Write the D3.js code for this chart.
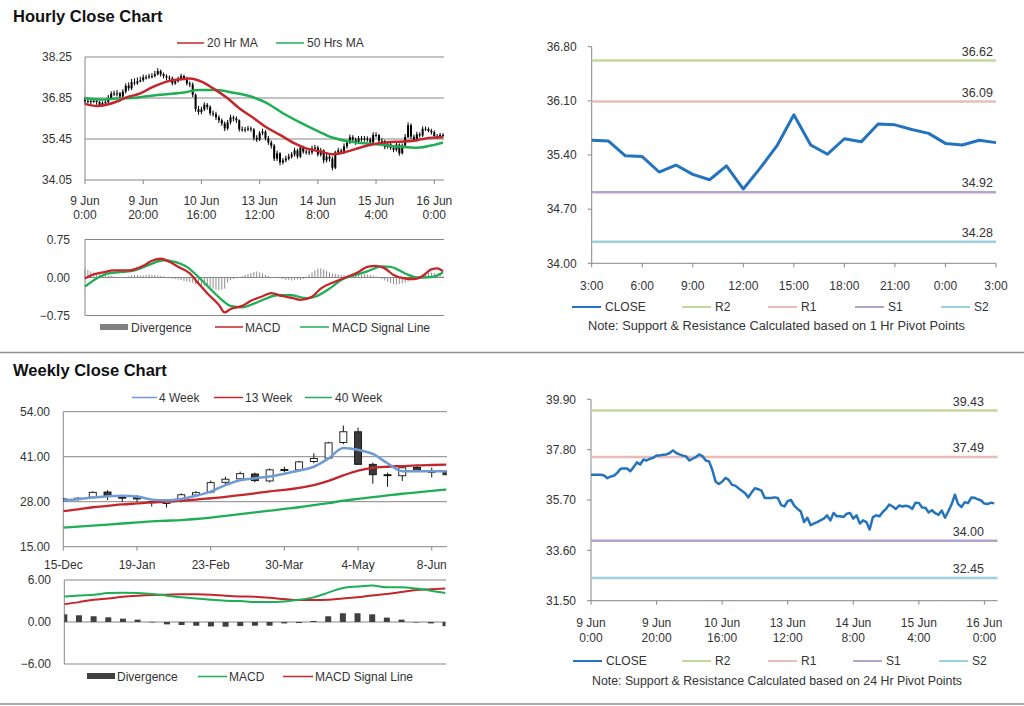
<!DOCTYPE html>
<html><head><meta charset="utf-8">
<script src="https://cdn.jsdelivr.net/npm/d3@7"></script>
<style>body{margin:0;background:#fff}svg{display:block}</style>
</head><body><svg id="c" width="1024" height="706"></svg>
<script>
// ---------------- DATA ----------------
const hourlyTickIdx = [0,20,40,60,80,100,120];
const hourlyTickDate = ["9 Jun","9 Jun","10 Jun","13 Jun","14 Jun","15 Jun","16 Jun"];
const hourlyTickTime = ["0:00","20:00","16:00","12:00","8:00","4:00","0:00"];
const hourlyYTicks = [34.05,35.45,36.85,38.25];

const hourlyClose = [36.75,36.75,36.75,36.75,36.72,36.61,36.68,36.71,36.83,37.00,
37.01,37.01,36.90,37.07,37.27,37.18,37.39,37.35,37.42,37.46,
37.56,37.56,37.59,37.60,37.66,37.77,37.66,37.60,37.55,37.52,
37.35,37.42,37.49,37.60,37.53,37.35,37.31,36.96,36.47,36.37,
36.46,36.62,36.54,36.33,36.30,36.19,36.09,35.98,35.81,36.02,
36.19,36.15,36.09,35.78,35.78,35.78,35.81,35.78,35.49,35.43,
35.65,35.70,35.47,35.33,35.22,34.78,34.96,34.65,34.72,34.78,
34.85,34.92,35.06,34.85,35.16,35.02,35.02,34.99,35.13,35.16,
34.92,35.06,34.72,34.85,34.78,34.47,34.99,35.06,35.02,35.20,
35.33,35.51,35.43,35.33,35.47,35.43,35.46,35.43,35.33,35.59,
35.58,35.39,35.38,35.18,35.27,35.15,35.08,35.26,34.96,35.23,
35.52,35.92,35.53,35.41,35.61,35.57,35.80,35.79,35.73,35.68,
35.55,35.53,35.59,35.56];
const hourlyOpen = [36.78,36.75,36.75,36.75,36.75,36.72,36.61,36.68,36.71,36.83,
37.00,37.01,37.01,36.90,37.07,37.27,37.18,37.39,37.35,37.42,
37.46,37.56,37.56,37.59,37.60,37.66,37.77,37.66,37.60,37.55,
37.52,37.35,37.42,37.49,37.60,37.53,37.35,37.31,36.96,36.47,
36.37,36.46,36.62,36.54,36.33,36.30,36.19,36.09,35.98,35.81,
36.02,36.19,36.15,36.09,35.78,35.78,35.78,35.81,35.78,35.49,
35.43,35.65,35.70,35.47,35.33,35.22,34.78,34.96,34.65,34.72,
34.78,34.85,34.92,35.06,34.85,35.16,35.02,35.02,34.99,35.13,
35.16,34.92,35.06,34.72,34.85,34.78,34.47,34.99,35.06,35.02,
35.20,35.33,35.51,35.43,35.33,35.47,35.43,35.46,35.43,35.33,
35.59,35.58,35.39,35.38,35.18,35.27,35.15,35.08,35.26,34.96,
35.23,35.52,35.92,35.53,35.41,35.61,35.57,35.80,35.79,35.73,
35.68,35.55,35.53,35.59];
const hourlyHigh = [36.88,36.84,36.82,36.85,36.80,36.76,36.74,36.80,36.95,37.08,
37.10,37.12,37.06,37.15,37.35,37.38,37.50,37.52,37.55,37.58,
37.65,37.64,37.68,37.70,37.78,37.87,37.82,37.72,37.66,37.62,
37.58,37.50,37.58,37.68,37.65,37.58,37.42,37.38,37.00,36.58,
36.55,36.70,36.68,36.60,36.42,36.38,36.26,36.15,36.05,36.10,
36.28,36.25,36.22,36.12,35.88,35.86,35.90,35.88,35.82,35.58,
35.72,35.80,35.75,35.55,35.40,35.28,35.05,35.00,34.80,34.88,
34.95,35.00,35.15,35.12,35.25,35.22,35.10,35.10,35.22,35.25,
35.22,35.15,35.10,34.95,34.92,34.85,35.05,35.15,35.12,35.30,
35.42,35.60,35.58,35.50,35.55,35.55,35.55,35.54,35.50,35.68,
35.68,35.62,35.48,35.42,35.35,35.32,35.22,35.35,35.30,35.30,
35.62,36.02,35.98,35.60,35.70,35.68,35.88,35.88,35.85,35.80,
35.74,35.62,35.66,35.65];
const hourlyLow = [36.66,36.66,36.64,36.68,36.62,36.55,36.55,36.62,36.66,36.78,
36.92,36.90,36.82,36.85,37.00,37.10,37.12,37.28,37.30,37.38,
37.40,37.48,37.50,37.52,37.55,37.62,37.58,37.52,37.45,37.44,
37.28,37.30,37.38,37.44,37.45,37.28,37.22,36.88,36.38,36.28,
36.30,36.40,36.45,36.25,36.22,36.10,36.00,35.90,35.72,35.75,
35.95,36.05,36.00,35.70,35.70,35.68,35.72,35.70,35.40,35.35,
35.38,35.58,35.40,35.25,35.12,34.70,34.70,34.55,34.58,34.65,
34.72,34.78,34.85,34.78,34.80,34.95,34.92,34.90,34.92,35.05,
34.85,34.85,34.62,34.65,34.68,34.38,34.42,34.92,34.95,34.95,
35.12,35.28,35.35,35.25,35.28,35.36,35.36,35.35,35.25,35.28,
35.50,35.30,35.30,35.10,35.12,35.08,35.00,35.02,34.88,34.92,
35.18,35.48,35.45,35.35,35.36,35.50,35.52,35.72,35.68,35.60,
35.48,35.46,35.48,35.50];
// moving averages as [hour index, value]
const ma20Hr = [[0,36.65],[4,36.58],[7,36.61],[11,36.73],[14,36.86],[19,37.01],[23,37.21],[28,37.41],[33,37.50],[36,37.52],[40,37.41],[44,37.18],[49,36.84],[53,36.50],[58,36.16],[62,35.87],[67,35.59],[72,35.30],[76,35.13],[81,35.02],[85,34.93],[90,35.02],[95,35.17],[99,35.27],[104,35.34],[108,35.36],[113,35.39],[117,35.47],[123,35.51]];
const ma50Hr = [[0,36.84],[5,36.80],[11,36.83],[17,36.86],[22,36.92],[28,36.98],[34,37.04],[39,37.12],[45,37.12],[51,37.03],[57,36.90],[62,36.70],[68,36.33],[74,36.01],[80,35.72],[85,35.50],[91,35.36],[97,35.30],[102,35.25],[108,35.19],[114,35.15],[120,35.25],[123,35.33]];
// hourly MACD panel
const hourlyMacdTicks = [-0.75,0.00,0.75];
const hourlyMacd = [[0,-0.02],[3,0.06],[6,0.10],[10,0.14],[15,0.14],[20,0.23],[23,0.33],[26,0.37],[29,0.31],[32,0.21],[36,0.08],[39,-0.12],[42,-0.31],[46,-0.54],[48,-0.69],[50,-0.62],[54,-0.56],[57,-0.46],[61,-0.37],[64,-0.31],[68,-0.37],[71,-0.40],[74,-0.44],[78,-0.38],[81,-0.22],[86,-0.08],[90,0.01],[94,0.11],[97,0.21],[100,0.23],[103,0.18],[106,0.05],[110,-0.02],[113,-0.03],[116,0.03],[119,0.16],[121,0.18],[123,0.12]];
const hourlySignal = [[0,-0.18],[4,-0.02],[8,0.08],[13,0.11],[17,0.14],[22,0.25],[27,0.34],[30,0.32],[35,0.21],[39,0.01],[44,-0.28],[47,-0.44],[50,-0.56],[54,-0.59],[57,-0.54],[62,-0.42],[66,-0.35],[71,-0.35],[76,-0.41],[79,-0.38],[84,-0.22],[88,-0.05],[93,0.05],[97,0.12],[102,0.22],[105,0.21],[110,0.08],[114,0.00],[119,0.01],[123,0.10]];
const hourlyDivergence = [0.16,0.15,0.12,0.10,0.08,0.06,0.05,0.04,0.03,0.03,
0.02,0.01,0.00,-0.01,0.00,0.02,0.04,0.05,0.05,0.04,
0.04,0.05,0.06,0.05,0.05,0.04,0.03,0.02,0.01,0.00,
-0.02,-0.03,-0.04,-0.05,-0.07,-0.08,-0.09,-0.11,-0.13,-0.14,
-0.16,-0.17,-0.18,-0.20,-0.22,-0.24,-0.25,-0.24,-0.22,-0.10,
-0.05,-0.03,-0.01,0.01,0.03,0.05,0.07,0.09,0.11,0.12,
0.10,0.08,0.05,0.03,0.01,0.00,-0.01,-0.02,-0.03,-0.05,
-0.05,-0.06,-0.05,-0.04,-0.05,-0.03,0.02,0.06,0.10,0.14,
0.17,0.18,0.16,0.13,0.10,0.08,0.07,0.06,0.05,0.05,
0.04,0.04,0.03,0.04,0.05,0.06,0.07,0.06,0.05,0.04,
0.02,0.00,-0.03,-0.06,-0.09,-0.11,-0.13,-0.14,-0.13,-0.12,
-0.10,-0.08,-0.06,-0.03,0.00,0.03,0.06,0.08,0.09,0.10,
0.09,0.07,0.05,0.03];

// last 25 hours (top-right)
const lastDayLabels = ["3:00","6:00","9:00","12:00","15:00","18:00","21:00","0:00","3:00"];
const lastDayYTicks = [34.00,34.70,35.40,36.10,36.80];
const lastDayClose = [35.59,35.58,35.39,35.38,35.18,35.27,35.15,35.08,35.26,34.96,35.23,35.52,35.92,35.53,35.41,35.61,35.57,35.80,35.79,35.73,35.68,35.55,35.53,35.59,35.56];
const pivotNames = ["R2","R1","S1","S2"];
const pivots1Hr = [36.62,36.09,34.92,34.28];
const pivots24Hr = [39.43,37.49,34.00,32.45];
const pivotYTicks24 = [31.50,33.60,35.70,37.80,39.90];

// weekly
const weekLabels = ["15-Dec","19-Jan","23-Feb","30-Mar","4-May","8-Jun"];
const weekTickIdx = [0,5,10,15,20,25];
const weekYTicks = [15,28,41,54];
const weekOpen  = [28.8,28.6,29.3,30.8,29.3,29.4,28.0,27.5,28.3,29.9,30.8,33.6,34.6,36.0,34.0,37.3,37.2,39.6,40.6,45.1,48.2,38.8,35.8,35.5,37.9,36.8,36.7];
const weekClose = [28.3,29.0,30.7,29.8,29.2,28.8,27.8,28.2,30.0,30.6,33.5,34.5,36.1,34.1,37.2,37.0,39.5,40.5,45.0,48.2,38.8,35.8,35.6,37.8,37.0,36.7,35.8];
const weekHigh  = [29.1,29.3,31.0,31.3,29.6,29.9,28.3,28.4,30.4,31.1,34.1,35.2,36.7,36.4,37.6,38.1,39.8,42.0,45.3,50.0,49.4,39.3,36.4,38.3,38.3,37.8,37.0];
const weekLow   = [28.0,28.4,29.0,28.5,28.0,28.0,26.6,26.3,27.8,29.6,30.4,32.6,34.0,33.6,33.6,36.5,36.9,39.1,40.2,44.6,38.6,33.2,32.3,34.0,36.7,35.0,35.6];
const ma4Week  = [28.4,28.7,29.2,29.6,29.7,29.5,28.6,28.4,28.8,29.7,30.9,32.8,34.2,34.8,35.3,36.1,37.0,38.1,40.5,43.5,43.0,41.8,39.1,36.8,36.8,36.8,36.8];
const ma13Week = [25.3,25.8,26.4,26.8,27.2,27.5,27.8,28.0,28.3,28.6,29.0,29.4,29.9,30.4,31.0,31.4,32.0,32.8,34.0,35.6,37.0,37.8,38.1,38.3,38.5,38.6,38.7];
const ma40Week = [20.5,20.8,21.1,21.4,21.7,22.0,22.3,22.5,22.7,23.0,23.4,23.9,24.4,24.9,25.4,25.9,26.4,27.0,27.6,28.3,28.8,29.3,29.8,30.3,30.7,31.1,31.5];
const weekMacdTicks = [-6,0,6];
const weekMacd   = [3.66,3.80,3.90,4.14,4.19,4.14,4.00,3.76,3.52,3.37,3.18,3.04,2.99,2.84,2.84,2.94,3.18,3.52,4.19,4.87,5.06,5.20,4.96,4.96,4.77,4.48,4.14];
const weekSignal = [2.55,2.84,3.18,3.37,3.61,3.76,3.86,3.90,3.95,3.95,3.90,3.76,3.66,3.61,3.47,3.28,3.13,3.13,3.18,3.37,3.52,3.80,4.00,4.29,4.58,4.67,4.77];
const weekDivergence = [1.10,0.96,0.82,0.67,0.48,0.34,0.02,-0.34,-0.43,-0.53,-0.63,-0.67,-0.58,-0.53,-0.53,-0.20,-0.15,0.15,0.82,1.25,1.25,1.10,0.63,0.34,0.00,-0.20,-0.60];

// ---------------- DRAWING ----------------
const FONT = "'Liberation Sans', Arial, Helvetica, sans-serif";
const TXT = "#333";
const AX = "#868686";
const RED = "#c3272c", GREEN = "#1fae55", BLUE4 = "#6e9bd4", CLOSEC = "#2474bd";
const PIVC = {R2:"#c4d89e", R1:"#e8bcbc", S1:"#b3a3cb", S2:"#9dd1df"};
const svg = d3.select("#c").attr("font-family", FONT);

function hline(g, x1, x2, y, color, w){ g.append("line").attr("x1",x1).attr("x2",x2).attr("y1",y).attr("y2",y).attr("stroke",color).attr("stroke-width",w||1); }
function vline(g, x, y1, y2, color, w){ g.append("line").attr("x1",x).attr("x2",x).attr("y1",y1).attr("y2",y2).attr("stroke",color).attr("stroke-width",w||1); }
function txt(g, x, y, s, anchor, size){ return g.append("text").attr("x",x).attr("y",y).attr("text-anchor",anchor||"start").attr("font-size",size||12).attr("fill",TXT).text(s); }
function yLabels(scale, vals, x, fmt){
  const g = svg.append("g").attr("transform",`translate(${x},0)`)
    .call(d3.axisLeft(scale).tickValues(vals).tickFormat(d3.format(fmt)).tickSize(0).tickPadding(0));
  g.select(".domain").remove();
  g.attr("font-family",FONT).attr("font-size",12);
  g.selectAll("text").attr("fill",TXT);
  return g;
}
function clip(id, x, y, w, h){ svg.append("clipPath").attr("id",id).append("rect").attr("x",x).attr("y",y).attr("width",w).attr("height",h); }

// titles & separators
txt(svg, 13, 21.5, "Hourly Close Chart", "start", 16.5).attr("font-weight","bold").attr("fill","#111");
txt(svg, 13, 376, "Weekly Close Chart", "start", 16.5).attr("font-weight","bold").attr("fill","#111");
hline(svg, 0, 1024, 352.5, "#8f8f8f", 1.5);
hline(svg, 0, 1024, 704, "#8f8f8f", 1.5);

// ===== Hourly candle panel =====
{
  const xH = d3.scaleLinear().domain([0,123]).range([85,443]);
  const yH = d3.scaleLinear().domain([34.05,38.25]).range([180,57]);
  const g = svg.append("g");
  hourlyYTicks.forEach(v => hline(g, 85, 444, yH(v), AX, 1));
  vline(g, 85, yH(38.25), yH(34.05), AX, 1);
  hourlyTickIdx.forEach((i,k) => {
    vline(g, xH(i), 180, 184, AX, 1);
    txt(g, xH(i), 205, hourlyTickDate[k], "middle");
    txt(g, xH(i), 218.5, hourlyTickTime[k], "middle");
  });
  yLabels(yH, hourlyYTicks, 72, ".2f");
  const cd = hourlyClose.map((c,i)=>({i, o:hourlyOpen[i], h:hourlyHigh[i], l:hourlyLow[i], c}));
  g.selectAll("line.wk").data(cd).join("line").attr("class","wk")
    .attr("x1",d=>xH(d.i)).attr("x2",d=>xH(d.i)).attr("y1",d=>yH(d.h)).attr("y2",d=>yH(d.l))
    .attr("stroke","#000").attr("stroke-width",1);
  g.selectAll("rect.bd").data(cd).join("rect").attr("class","bd")
    .attr("x",d=>xH(d.i)-1).attr("width",2)
    .attr("y",d=>yH(Math.max(d.o,d.c))).attr("height",d=>Math.max(1,Math.abs(yH(d.o)-yH(d.c))))
    .attr("fill","#000");
  const ln = d3.line().x(d=>xH(d[0])).y(d=>yH(d[1])).curve(d3.curveMonotoneX);
  g.append("path").attr("d",ln(ma50Hr)).attr("fill","none").attr("stroke",GREEN).attr("stroke-width",2.5);
  g.append("path").attr("d",ln(ma20Hr)).attr("fill","none").attr("stroke",RED).attr("stroke-width",2.5);
  // legend
  hline(g, 177, 204, 43, RED, 1.5); txt(g, 207, 47, "20 Hr MA");
  hline(g, 276, 304, 43, GREEN, 1.5); txt(g, 307, 47, "50 Hrs MA");
}

// ===== Hourly MACD panel =====
{
  const xH = d3.scaleLinear().domain([0,123]).range([85,443]);
  const yM = d3.scaleLinear().domain([-0.75,0.75]).range([315.5,239.5]);
  const g = svg.append("g");
  hourlyMacdTicks.forEach(v => hline(g, 85, 444, yM(v), AX, 1));
  vline(g, 85, yM(0.75), yM(-0.75), AX, 1);
  yLabels(yM, hourlyMacdTicks, 70, ".2f");
  g.selectAll("line.dv").data(hourlyDivergence).join("line").attr("class","dv")
    .attr("x1",(d,i)=>xH(i)).attr("x2",(d,i)=>xH(i)).attr("y1",yM(0)).attr("y2",d=>yM(d))
    .attr("stroke","#8c8c8c").attr("stroke-width",1);
  const ln = d3.line().x(d=>xH(d[0])).y(d=>yM(d[1])).curve(d3.curveMonotoneX);
  g.append("path").attr("d",ln(hourlySignal)).attr("fill","none").attr("stroke",GREEN).attr("stroke-width",2.3);
  g.append("path").attr("d",ln(hourlyMacd)).attr("fill","none").attr("stroke",RED).attr("stroke-width",2.3);
  g.append("rect").attr("x",100).attr("y",324).attr("width",28).attr("height",6).attr("fill","#808080");
  txt(g, 131, 331.5, "Divergence");
  hline(g, 215, 243, 327, RED, 1.5); txt(g, 245, 331.5, "MACD");
  hline(g, 300, 329, 327, GREEN, 1.5); txt(g, 332, 331.5, "MACD Signal Line");
}

// ===== Pivot panels (right) =====
function pivotPanel(o){
  const x = d3.scaleLinear().domain(o.xDomain).range([o.x0,o.x1]);
  const y = d3.scaleLinear().domain(o.yDomain).range([o.yB,o.yT]);
  const g = svg.append("g");
  vline(g, o.x0, o.yT, o.yB, AX, 1);
  hline(g, o.x0, o.xEnd, o.yB, AX, 1);
  o.yTicks.forEach(v => hline(g, o.x0-4, o.x0, y(v), AX, 1));
  yLabels(y, o.yTicks, o.x0-15, ".2f");
  o.xTickIdx.forEach((i,k)=>{
    vline(g, x(i), o.yB, o.yB+4, AX, 1);
    o.xLabels.forEach((arr,row)=> txt(g, x(i), o.labelY[row], arr[k], "middle"));
  });
  pivotNames.forEach((n,k)=>{
    const v = o.pivots[k];
    hline(g, o.x0, o.xEnd, y(v), PIVC[n], 2.5);
    txt(g, o.pivotLabelX, y(v)-5, v.toFixed(2), "end", 12.5);
  });
  const ln = d3.line().x((d,i)=>x(i)).y(d=>y(d));
  g.append("path").attr("d",ln(o.data)).attr("fill","none").attr("stroke",CLOSEC).attr("stroke-width",o.lw).attr("stroke-linejoin","round");
  const items = [["CLOSE",CLOSEC],["R2",PIVC.R2],["R1",PIVC.R1],["S1",PIVC.S1],["S2",PIVC.S2]];
  items.forEach((it,k)=>{
    const sx = o.legendX[k];
    hline(g, sx, sx+29, o.legendY-4, it[1], 2);
    txt(g, sx+33, o.legendY, it[0]);
  });
  txt(g, o.noteX, o.noteY, o.note, "start").attr("textLength",o.noteW).attr("lengthAdjust","spacingAndGlyphs");
}
pivotPanel({xDomain:[0,24], x0:591.7, x1:996, xEnd:996, yDomain:[34,36.8], yB:263.3, yT:46.7,
  yTicks:lastDayYTicks, xTickIdx:[0,3,6,9,12,15,18,21,24], xLabels:[lastDayLabels], labelY:[290],
  pivots:pivots1Hr, pivotLabelX:993, data:lastDayClose, lw:3,
  legendX:[572,682,768,855,941], legendY:311, noteX:588, noteY:330, noteW:377,
  note:"Note: Support & Resistance Calculated based on 1 Hr Pivot Points"});
pivotPanel({xDomain:[0,124], x0:591, x1:997.5, xEnd:997.5, yDomain:[31.5,39.9], yB:600.7, yT:399.3,
  yTicks:pivotYTicks24, xTickIdx:hourlyTickIdx, xLabels:[hourlyTickDate,hourlyTickTime], labelY:[627,641.5],
  pivots:pivots24Hr, pivotLabelX:984, data:hourlyClose, lw:2.5,
  legendX:[573,682,768,853,939], legendY:665, noteX:592, noteY:685, noteW:370,
  note:"Note: Support & Resistance Calculated based on 24 Hr Pivot Points"});

// ===== Weekly candle panel =====
{
  const xW = d3.scaleLinear().domain([0,26]).range([63.3,446.5]);
  const yW = d3.scaleLinear().domain([15,54]).range([546.7,411.7]);
  clip("cw", 63.3, 400, 383.2, 150);
  const g = svg.append("g");
  weekYTicks.forEach(v => hline(g, 63.3, 447, yW(v), AX, 1));
  vline(g, 63.3, yW(54), yW(15), AX, 1);
  weekTickIdx.forEach((i,k)=>{ vline(g, xW(i), 546.7, 550.7, AX, 1); txt(g, xW(i), 569, weekLabels[k], "middle"); });
  yLabels(yW, weekYTicks, 50, ".2f");
  const cg = g.append("g").attr("clip-path","url(#cw)");
  const wd = weekClose.map((c,i)=>({i, o:weekOpen[i], h:weekHigh[i], l:weekLow[i], c}));
  cg.selectAll("line.wk").data(wd).join("line").attr("class","wk")
    .attr("x1",d=>xW(d.i)).attr("x2",d=>xW(d.i)).attr("y1",d=>yW(d.h)).attr("y2",d=>yW(d.l))
    .attr("stroke","#111").attr("stroke-width",1);
  cg.selectAll("rect.bd").data(wd).join("rect").attr("class","bd")
    .attr("x",d=>xW(d.i)-3.5).attr("width",7)
    .attr("y",d=>yW(Math.max(d.o,d.c))).attr("height",d=>Math.max(1,Math.abs(yW(d.o)-yW(d.c))))
    .attr("fill",d=>d.c>=d.o?"#fff":"#3a3a3a").attr("stroke","#111").attr("stroke-width",0.9);
  const ln = d3.line().x((d,i)=>xW(i)).y(d=>yW(d)).curve(d3.curveMonotoneX);
  cg.append("path").attr("d",ln(ma40Week)).attr("fill","none").attr("stroke",GREEN).attr("stroke-width",2.3);
  cg.append("path").attr("d",ln(ma13Week)).attr("fill","none").attr("stroke",RED).attr("stroke-width",2.3);
  cg.append("path").attr("d",ln(ma4Week)).attr("fill","none").attr("stroke",BLUE4).attr("stroke-width",2.5);
  hline(g, 132, 157, 397.5, BLUE4, 1.5); txt(g, 159, 401.5, "4 Week");
  hline(g, 214, 243, 397.5, RED, 1.5); txt(g, 245, 401.5, "13 Week");
  hline(g, 305, 332, 397.5, GREEN, 1.5); txt(g, 335, 401.5, "40 Week");
}

// ===== Weekly MACD panel =====
{
  const xW = d3.scaleLinear().domain([0,26]).range([64.3,445.5]);
  const yM = d3.scaleLinear().domain([-6,6]).range([664,580]);
  clip("cwm", 64.3, 575, 381.2, 95);
  const g = svg.append("g");
  weekMacdTicks.forEach(v => hline(g, 64.3, 446, yM(v), AX, 1));
  vline(g, 64.3, yM(6), yM(-6), AX, 1);
  yLabels(yM, weekMacdTicks, 51, ".2f");
  const cg = g.append("g").attr("clip-path","url(#cwm)");
  cg.selectAll("rect.dv").data(weekDivergence).join("rect").attr("class","dv")
    .attr("x",(d,i)=>xW(i)-3).attr("width",6)
    .attr("y",d=>yM(Math.max(0,d))).attr("height",d=>Math.max(0.5,Math.abs(yM(d)-yM(0))))
    .attr("fill","#404040");
  const ln = d3.line().x((d,i)=>xW(i)).y(d=>yM(d)).curve(d3.curveMonotoneX);
  cg.append("path").attr("d",ln(weekSignal)).attr("fill","none").attr("stroke",RED).attr("stroke-width",2);
  cg.append("path").attr("d",ln(weekMacd)).attr("fill","none").attr("stroke",GREEN).attr("stroke-width",2);
  g.append("rect").attr("x",87).attr("y",673).attr("width",28).attr("height",6).attr("fill","#404040");
  txt(g, 117, 680.5, "Divergence");
  hline(g, 198, 227, 676.5, GREEN, 1.5); txt(g, 229, 680.5, "MACD");
  hline(g, 283, 313, 676.5, RED, 1.5); txt(g, 315, 680.5, "MACD Signal Line");
}
</script></body></html>
